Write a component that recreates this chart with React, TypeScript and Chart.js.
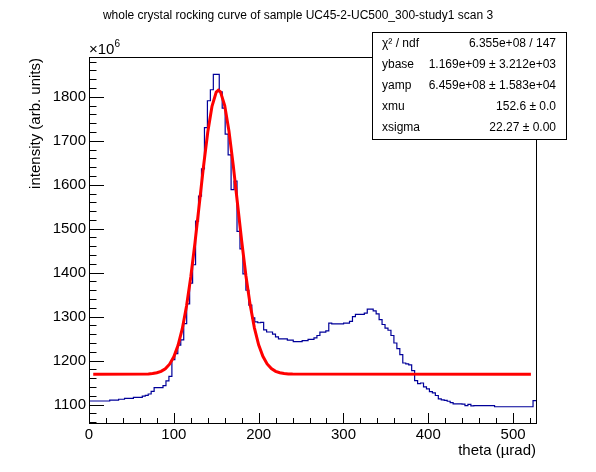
import { useEffect, useRef } from 'react';
import { Chart, registerables } from 'chart.js';

Chart.register(...registerables);

// histogram range in theta (urad), bins are equal width
const histMin = 0;
const histMax = 527;

// bin contents, units of 1e6
const intensity = [
  1108, 1108, 1108, 1108, 1108, 1108, 1108, 1110, 1110, 1110,
  1112, 1112, 1114, 1114, 1114, 1116.5, 1116.5, 1116.5, 1119, 1121,
  1124, 1130, 1138.5, 1138.5, 1138.5, 1143, 1154, 1164, 1202, 1216,
  1235, 1247, 1284, 1329, 1376, 1418, 1517, 1574, 1636, 1730,
  1791, 1816, 1851, 1851, 1811, 1774, 1715, 1668, 1589, 1608,
  1494, 1454, 1397, 1360, 1326, 1297, 1288, 1286, 1287, 1270,
  1265, 1265, 1260, 1254, 1249.5, 1249.5, 1249.5, 1246.5, 1246.5, 1243,
  1243, 1243, 1245.5, 1245.5, 1248, 1248, 1251.5, 1257, 1264.5, 1264.5,
  1267.5, 1285, 1283.5, 1283.5, 1283.5, 1283.5, 1285, 1285, 1289, 1300,
  1305, 1305, 1305, 1308, 1317, 1317, 1313, 1306, 1293, 1282,
  1274, 1269, 1257, 1240, 1227, 1213.5, 1194.5, 1192.5, 1190, 1177,
  1154.5, 1147.5, 1149, 1140, 1135.5, 1129.5, 1126.5, 1120.5, 1113, 1110.5,
  1109.5, 1107.5, 1104.5, 1101.5, 1101.5, 1101.5, 1101, 1097.5, 1100.5, 1097,
  1097.5, 1097.5, 1097.5, 1097.5, 1097.5, 1097.5, 1097.5, 1095, 1095, 1095,
  1095, 1095, 1095, 1095, 1095, 1095, 1095, 1095, 1095, 1095,
  1109,
];

// fitted curve
const fitTheta = [
  5, 70, 75, 80, 85, 90, 95, 100, 105, 110, 115, 120, 125, 130, 135, 140,
  145, 150, 152.5, 155, 160, 165, 170, 175, 180, 185, 190, 195, 200, 205,
  210, 215, 220, 225, 230, 235, 240, 521,
];
const fitIntensity = [
  1169, 1169.5, 1170.5, 1172.2, 1175.4, 1181.4, 1191.8, 1208.7, 1234.8, 1272.6,
  1324.3, 1390.2, 1468.7, 1555, 1641.7, 1719.4, 1778.3, 1810.5, 1814.9, 1811.2,
  1780.2, 1722.2, 1645, 1558.5, 1472, 1393.1, 1326.7, 1274.5, 1236, 1209.6,
  1192.3, 1181.7, 1175.6, 1172.3, 1170.5, 1169.7, 1169.2, 1169,
];

const xTicks = [0, 100, 200, 300, 400, 500];
const yTicks = [1100, 1200, 1300, 1400, 1500, 1600, 1700, 1800];

const statNames = ['χ² / ndf', 'ybase', 'yamp', 'xmu', 'xsigma'];
const statValues = [
  '6.355e+08 / 147',
  '1.169e+09 ± 3.212e+03',
  '6.459e+08 ± 1.583e+04',
  '152.6 ± 0.0',
  '22.27 ± 0.00',
];

const titleText = 'whole crystal rocking curve of sample UC45-2-UC500_300-study1 scan 3';
const FONT = '"Liberation Sans", Arial, sans-serif';

const rootDecor = {
  id: 'rootDecor',
  afterDatasetsDraw(chart: any) {
    const { ctx, chartArea: a, scales } = chart;
    const xs = scales.x;
    const ys = scales.y;
    ctx.save();
    ctx.strokeStyle = '#000';
    ctx.fillStyle = '#000';
    ctx.lineWidth = 1;

    // frame
    ctx.strokeRect(Math.round(a.left) + 0.5, Math.round(a.top) + 0.5,
      Math.round(a.right - a.left), Math.round(a.bottom - a.top));

    // y ticks (inside)
    ctx.beginPath();
    for (let v = 1060; v <= ys.max; v += 20) {
      const y = Math.round(ys.getPixelForValue(v)) + 0.5;
      const len = v % 100 === 0 ? 15 : 7.5;
      ctx.moveTo(a.left, y);
      ctx.lineTo(a.left + len, y);
    }
    // x ticks (inside)
    for (let v = 0; v <= xs.max; v += 20) {
      const x = Math.round(xs.getPixelForValue(v)) + 0.5;
      const len = v % 100 === 0 ? 10 : 5;
      ctx.moveTo(x, a.bottom);
      ctx.lineTo(x, a.bottom - len);
    }
    ctx.stroke();

    // tick labels
    ctx.font = `15px ${FONT}`;
    ctx.textAlign = 'right';
    ctx.textBaseline = 'middle';
    yTicks.forEach((v) => ctx.fillText(String(v), a.left - 3, ys.getPixelForValue(v)));
    ctx.textAlign = 'center';
    xTicks.forEach((v) => ctx.fillText(String(v), xs.getPixelForValue(v), a.bottom + 12));

    // exponent
    ctx.textAlign = 'left';
    ctx.font = `15px ${FONT}`;
    ctx.fillText('×10', a.left, a.top - 7);
    const w = ctx.measureText('×10').width;
    ctx.font = `10px ${FONT}`;
    ctx.fillText('6', a.left + w, a.top - 13);

    // axis titles
    ctx.font = `15px ${FONT}`;
    ctx.textAlign = 'right';
    ctx.fillText('theta (µrad)', a.right, a.bottom + 28);
    ctx.save();
    ctx.translate(36, a.top + 1);
    ctx.rotate(-Math.PI / 2);
    ctx.fillText('intensity (arb. units)', 0, 0);
    ctx.restore();

    // title
    ctx.font = `12px ${FONT}`;
    ctx.textAlign = 'center';
    ctx.fillText(titleText, 298, 16);

    // stats box
    const bx = 372.5, by = 32.5, bw = 194, bh = 107;
    ctx.fillStyle = '#fff';
    ctx.fillRect(bx, by, bw, bh);
    ctx.strokeRect(bx, by, bw, bh);
    ctx.fillStyle = '#000';
    ctx.font = `12px ${FONT}`;
    statNames.forEach((n, i) => {
      const y = 43.5 + i * 21.1;
      ctx.textAlign = 'left';
      ctx.fillText(n, 382, y);
      ctx.textAlign = 'right';
      ctx.fillText(statValues[i], 556, y);
    });
    ctx.restore();
  },
};

export default function App() {
  const canvasRef = useRef<HTMLCanvasElement | null>(null);
  const chartRef = useRef<Chart | null>(null);

  useEffect(() => {
    if (!canvasRef.current) return;
    if (chartRef.current) chartRef.current.destroy();

    // one point per bin low edge, plus the upper edge of the last bin;
    // 'before' holds each value flat until the next edge
    const binWidth = (histMax - histMin) / intensity.length;
    const histPoints = intensity.map((v, i) => ({ x: histMin + i * binWidth, y: v }));
    histPoints.push({ x: histMax, y: intensity[intensity.length - 1] });
    const fitPoints = fitTheta.map((t, i) => ({ x: t, y: fitIntensity[i] }));

    chartRef.current = new Chart(canvasRef.current, {
      type: 'line',
      data: {
        datasets: [
          {
            label: 'fit',
            data: fitPoints,
            borderColor: '#ff0000',
            borderWidth: 3,
            pointRadius: 0,
            tension: 0,
            fill: false,
            order: 0,
          },
          {
            label: 'hist',
            data: histPoints,
            borderColor: '#000099',
            borderWidth: 1.2,
            pointRadius: 0,
            stepped: 'before',
            fill: false,
            order: 1,
          },
        ],
      },
      options: {
        animation: false,
        responsive: true,
        maintainAspectRatio: false,
        layout: { padding: { left: 89, right: 60, top: 57, bottom: 49 } },
        plugins: { legend: { display: false }, tooltip: { enabled: false } },
        scales: {
          x: { type: 'linear', min: histMin, max: histMax, display: false },
          y: { type: 'linear', min: 1058, max: 1890.5, display: false },
        },
      },
      plugins: [rootDecor],
    });

    return () => {
      if (chartRef.current) {
        chartRef.current.destroy();
        chartRef.current = null;
      }
    };
  }, []);

  return (
    <div style={{ position: 'absolute', left: 0, top: 0, width: 596, height: 472, background: '#fff' }}>
      <canvas ref={canvasRef}></canvas>
    </div>
  );
}
